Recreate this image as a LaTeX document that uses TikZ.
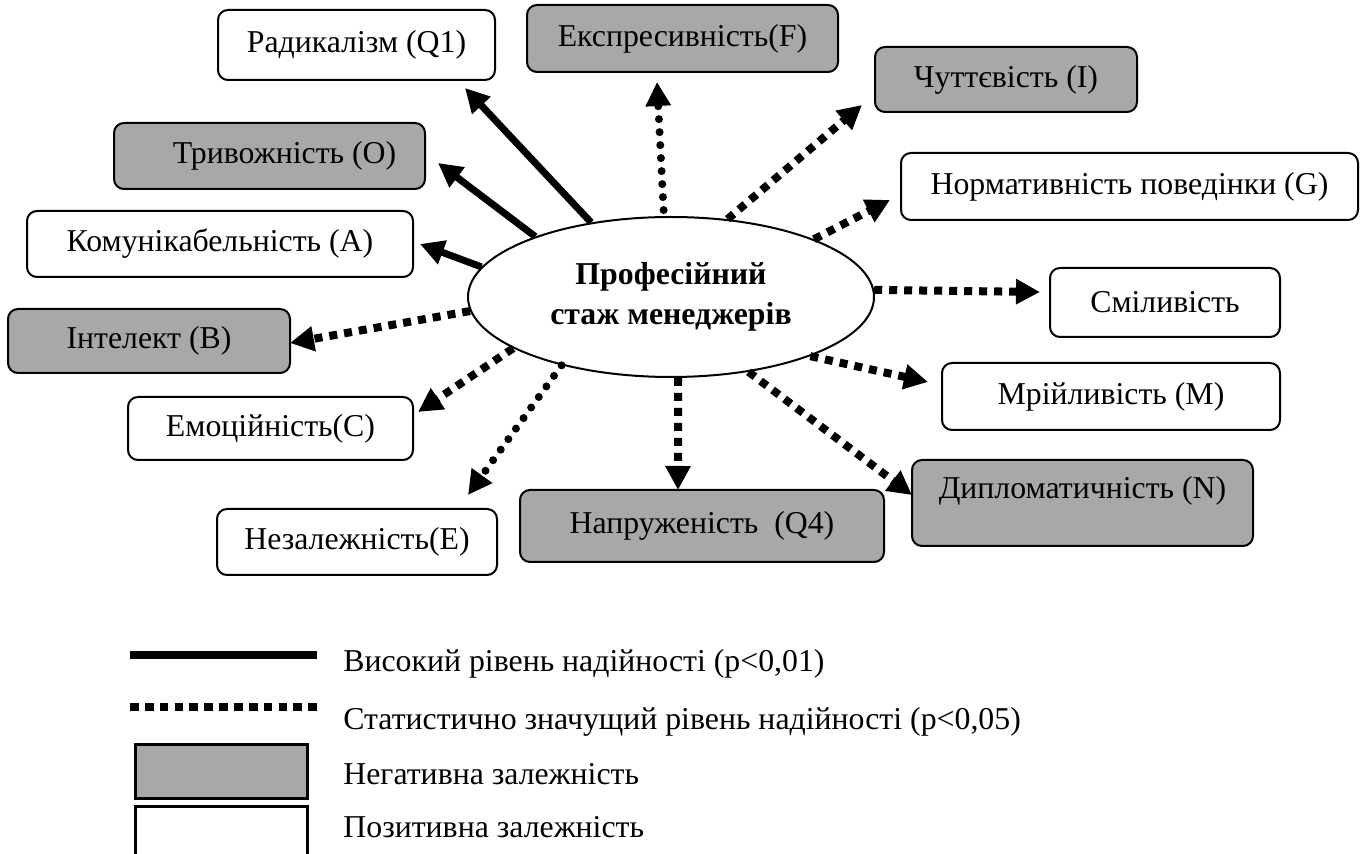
\documentclass[tikz,border=0pt]{standalone}
\usepackage{fontspec}
\setmainfont{Liberation Serif}
\usetikzlibrary{arrows.meta,shapes.geometric,calc}
\definecolor{neg}{RGB}{170,167,167}
\begin{document}
\begin{tikzpicture}[x=0.5pt,y=-0.5pt,
  txt/.style={font=\fontsize{15.9}{19}\selectfont},
  box/.style={txt, draw, line width=1pt, rounded corners=5pt, inner sep=0pt},
  negbox/.style={box, fill=neg},
  posbox/.style={box, fill=white},
  tip/.style={-{Triangle[length=12pt,width=12pt]}},
  hi/.style={tip, line width=3.5pt},
  sig/.style={tip, line width=4pt, dash pattern=on 4pt off 3.5pt},
  sigdot/.style={tip, line width=4pt, line cap=round, dash pattern=on 0pt off 6.5pt},
  legtext/.style={txt, anchor=base west, inner sep=0pt},
  legbox/.style={draw, line width=1.5pt, minimum width=86pt, inner sep=0pt},
]
\clip (0,0) rectangle (1365,854);

% central ellipse
\node[ellipse, draw, line width=1pt, minimum width=203pt, minimum height=80pt,
      align=center, inner sep=0pt, font=\fontsize{15.9}{20}\selectfont\bfseries]
      (ell) at (671,297) {Професійний\\стаж менеджерів};

% boxes
\node[posbox, minimum width=138.5pt, minimum height=35pt]   (rad)  at (356.5,45)    {Радикалізм (Q1)};
\node[negbox, minimum width=155.5pt, minimum height=33.5pt] (expr) at (682.5,38.5)  {Експресивність(F)};
\node[negbox, minimum width=131pt,   minimum height=32.5pt] (chut) at (1006,79.5)   {Чуттєвість (I)};
\node[posbox, minimum width=228.5pt, minimum height=33.5pt] (norm) at (1129.5,186.5) {Нормативність поведінки (G)};
\node[negbox, minimum width=155.5pt, minimum height=33pt]   (tryv) at (269.5,156)   {\hspace*{15pt}Тривожність (O)};
\node[posbox, minimum width=193pt,   minimum height=33pt]   (komu) at (220,244)     {Комунікабельність (A)};
\node[negbox, minimum width=141pt,   minimum height=32pt]   (int)  at (149,341)     {Інтелект (B)};
\node[posbox, minimum width=142.5pt, minimum height=31.5pt] (emo)  at (270.5,428.5) {Емоційність(C)};
\node[posbox, minimum width=140pt,   minimum height=33pt]   (nez)  at (357,542)     {Незалежність(E)};
\node[negbox, minimum width=182pt,   minimum height=36pt]   (napr) at (702,526)     {Напруженість\ \ (Q4)};
\node[negbox, minimum width=170.5pt, minimum height=43pt, text height=10.5pt, text depth=14.5pt]
                                                            (dipl) at (1082.5,503)  {Дипломатичність (N)};
\node[posbox, minimum width=169pt,   minimum height=33.5pt] (mrij) at (1111,396.5) {Мрійливість (M)};
\node[posbox, minimum width=115pt,   minimum height=34.5pt] (smil) at (1165,302.5) {Сміливість};

% connectors
\draw[hi]     (ell.137.5) -- ($(rad)+(108.5,43)$);
\draw[hi]     (ell.156.6) -- ($(tryv)+(168.5,7)$);
\draw[hi]     (ell.171.3) -- ($(komu)+(200,0)$);
\draw[sigdot, shorten <=3pt] (ell.95) -- ($(expr)+(-25.5,43.5)$);
\draw[sig]    (ell.54.5)  -- ($(chut)+(-144,25.5)$);
\draw[sig]    (ell.22.2)  -- ($(norm)+(-239.5,13.5)$);
\draw[sig]    (ell.2)     -- ($(smil)+(-125,-10.5)$);
\draw[sig]    (ell.337.4) -- ($(mrij)+(-183,-14.5)$);
\draw[sig]    (ell.316.7) -- ($(dipl)+(-170.5,-8)$);
\draw[sig]    (ell.275)   -- ($(napr)+(-24,-36)$);
\draw[sigdot] (ell.212.2) -- ($(nez)+(111,-47)$);
\draw[sig]    (ell.198.5) -- ($(emo)+(147.5,-16.5)$);
\draw[sig]    (ell.184.2) -- ($(int)+(141,2)$);

% legend
\coordinate (l1a) at (130,655); \coordinate (l1b) at (317,655);
\draw[line width=4pt] (l1a) -- (l1b);
\coordinate (l2a) at (130,707); \coordinate (l2b) at (317,707);
\draw[line width=4pt, dash pattern=on 4.35pt off 3.08pt] (l2a) -- (l2b);
\node[legbox, fill=neg, minimum height=26.5pt] (lneg) at (221,771.5) {};
\node[legbox, fill=white, minimum height=37pt] (lpos) at (221,843) {};
\node[legtext] (t1) at (343,672) {Високий рівень надійності (p<0,01)};
\node[legtext] (t2) at (343,730) {Статистично значущий рівень надійності (p<0,05)};
\node[legtext] (t3) at (343,784) {Негативна залежність};
\node[legtext] (t4) at (343,837) {Позитивна залежність};
\end{tikzpicture}
\end{document}
